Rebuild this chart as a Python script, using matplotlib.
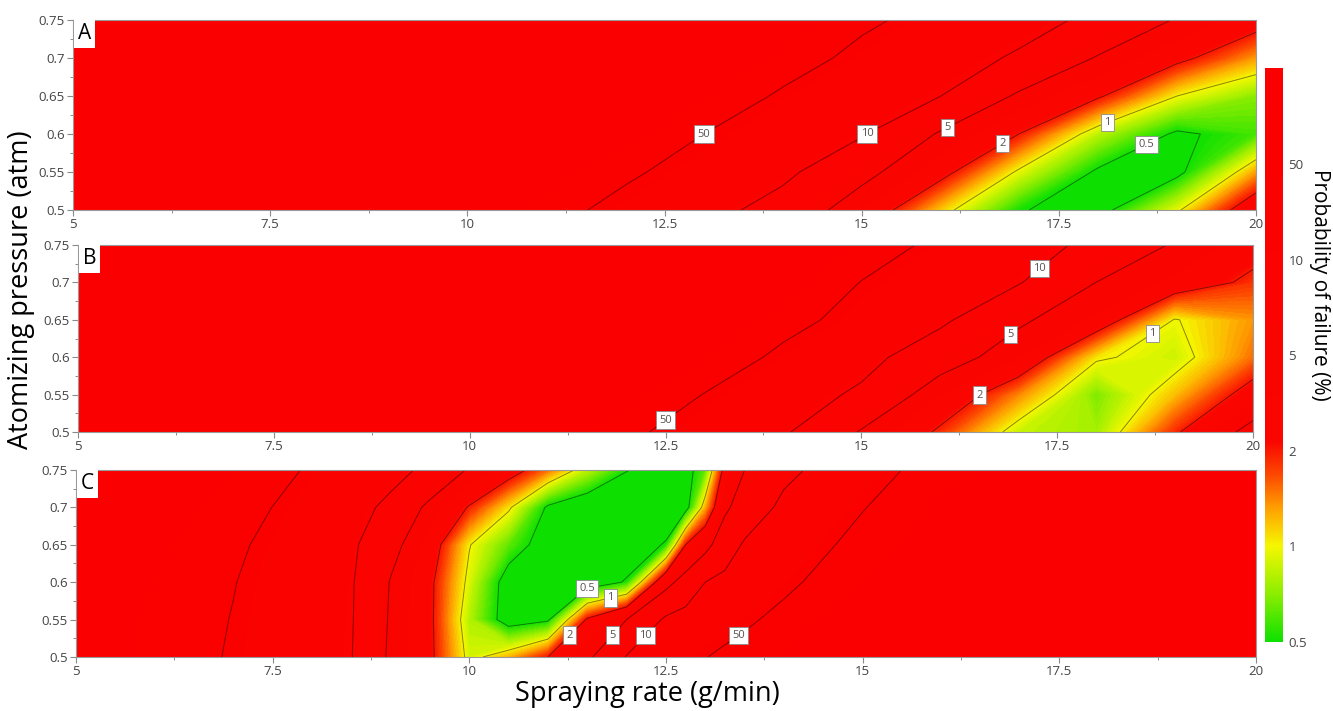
import numpy as np
import matplotlib
matplotlib.use("Agg")
import matplotlib.pyplot as plt
from matplotlib.colors import LinearSegmentedColormap, Normalize
from matplotlib.cm import ScalarMappable

plt.rcParams['font.family'] = ['Open Sans', 'DejaVu Sans']

# ---------------- data (probability of failure, %) ----------------
pressure = [0.50, 0.55, 0.60, 0.65, 0.70, 0.75]

rate_A = [5, 6, 7, 8, 9, 10, 11, 12, 13, 14, 15, 16, 17, 18, 19, 20]
fail_A = [
    [100, 100, 100, 100, 100, 100, 61, 33, 16.7, 7.8, 3.25, 1.15, 0.51, 0.435, 0.95, 3.2],
    [100, 100, 100, 100, 100, 100, 90, 55, 28, 13.8, 6.0, 2.47, 0.94, 0.47, 0.45, 1.3],
    [100, 100, 100, 100, 100, 100, 100, 89, 50, 23.5, 11.2, 4.6, 1.99, 0.82, 0.47, 0.58],
    [100, 100, 100, 100, 100, 100, 100, 100, 75, 41, 20.6, 10.1, 4.43, 2.15, 1.0, 0.70],
    [100, 100, 100, 100, 100, 100, 100, 100, 100, 66, 34.6, 18, 9.3, 4.7, 2.35, 1.32],
    [100, 100, 100, 100, 100, 100, 100, 100, 100, 100, 56, 30, 16.5, 8.8, 4.7, 2.6],
]

rate_B = [5, 6, 7, 8, 9, 10, 11, 12, 13, 14, 15, 16, 17, 18, 19, 20]
fail_B = [
    [100, 100, 100, 100, 100, 100, 100, 56, 26.6, 12.1, 4.7, 1.86, 0.86, 0.76, 1.86, 6.2],
    [100, 100, 100, 100, 100, 100, 100, 85, 47.6, 21, 9.0, 3.3, 1.41, 0.68, 1.19, 2.6],
    [100, 100, 100, 100, 100, 100, 100, 100, 75, 36.2, 16.4, 6.7, 3.4, 1.05, 0.87, 1.5],
    [100, 100, 100, 100, 100, 100, 100, 100, 100, 62, 29.2, 13.4, 5.5, 3.0, 0.98, 1.35],
    [100, 100, 100, 100, 100, 100, 100, 100, 100, 93, 48, 23, 11.1, 4.97, 3.0, 1.8],
    [100, 100, 100, 100, 100, 100, 100, 100, 100, 100, 72, 34, 17.1, 8.8, 4.6, 2.6],
]

rate_C = [5, 6, 7, 8, 8.5, 9, 9.5, 10, 10.5, 11, 11.5, 12, 12.5, 12.75, 13, 13.25, 13.5, 14, 15, 16, 18, 20]
fail_C = [
    [100, 69, 44, 17, 10.5, 4.39, 2.27, 0.90, 1.22, 2.0, 4.28, 10.8, 22.7, 33.4, 48, 56, 62, 79, 100, 100, 100, 100],
    [100, 70, 47.6, 17.8, 11.0, 4.6, 2.25, 0.80, 0.41, 0.47, 2.17, 5.0, 12.5, 16.8, 22.4, 29, 40, 58.6, 100, 100, 100, 100],
    [100, 74, 51, 18.8, 11.4, 4.8, 2.25, 0.91, 0.41, 0.35, 0.38, 0.52, 3.83, 6.5, 10, 13.8, 19.4, 37, 76, 100, 100, 100],
    [100, 82, 55, 22, 13.0, 6.0, 2.8, 1.02, 0.62, 0.41, 0.34, 0.38, 0.52, 2.0, 3.83, 7.4, 11.7, 22.4, 60, 100, 100, 100],
    [100, 100, 63, 28.5, 16.2, 8.8, 4.1, 1.93, 1.06, 0.47, 0.37, 0.33, 0.37, 0.42, 1.23, 4.3, 6.8, 13.8, 47, 79, 100, 100],
    [100, 100, 77, 42, 26, 15.2, 8.8, 4.6, 2.68, 1.49, 0.82, 0.51, 0.39, 0.435, 0.62, 2.6, 5.0, 8.6, 28.5, 64, 100, 100],
]

contour_levels = [0.5, 1, 2, 5, 10, 50]
contour_text = ['0.5', '1', '2', '5', '10', '50']
scale_refs = [0.25, 0.5, 1, 2, 5, 10, 50, 100]   # colour-scale reference points

# label anchor points (level, rate, pressure)
labels_A = [(50, 13.0, 0.60), (10, 15.13, 0.60), (5, 15.98, 0.609), (2, 16.72, 0.588),
            (1, 17.99, 0.616), (0.5, 18.65, 0.586)]
labels_B = [(50, 12.42, 0.516), (10, 17.43, 0.718), (5, 16.77, 0.631), (2, 16.54, 0.549),
            (1, 18.85, 0.631)]
labels_C = [(0.5, 11.38, 0.592), (1, 11.7, 0.58), (2, 11.27, 0.529), (5, 11.84, 0.529),
            (10, 12.1, 0.529), (50, 13.38, 0.529)]

xticks = [5, 7.5, 10, 12.5, 15, 17.5, 20]
xticklabels = ['5', '7.5', '10', '12.5', '15', '17.5', '20']
yticks = [0.5, 0.55, 0.6, 0.65, 0.7, 0.75]
yticklabels = ['0.5', '0.55', '0.6', '0.65', '0.7', '0.75']


def to_scale(p):
    """map probability (%) to the (equally spaced) colour-scale position"""
    return np.interp(np.log10(np.asarray(p, float)), np.log10(scale_refs),
                     np.arange(-1, len(scale_refs) - 1))


def snap(segs, x, y):
    """nearest point on a contour polyline (in axis-normalised units)"""
    sc = np.array([15.0, 0.25])
    q = np.array([x, y]) / sc
    best, bd = (x, y), np.inf
    for s in segs:
        if len(s) < 2:
            continue
        P = s / sc
        A, B = P[:-1], P[1:]
        AB = B - A
        L = (AB ** 2).sum(1)
        L[L == 0] = 1e-12
        t = np.clip(((q - A) * AB).sum(1) / L, 0, 1)
        pr = A + t[:, None] * AB
        d = ((pr - q) ** 2).sum(1)
        k = np.argmin(d)
        if d[k] < bd:
            bd, best = d[k], tuple(pr[k] * sc)
    if bd > 0.06 ** 2:
        return x, y
    return best


cmap = LinearSegmentedColormap.from_list('fail', [
    (0.0, (0.05, 0.88, 0.0)),
    (0.5 / 6, (0.55, 0.93, 0.0)),
    (1.0 / 6, (0.96, 0.97, 0.0)),
    (1.4 / 6, (1.0, 0.62, 0.0)),
    (1.75 / 6, (0.99, 0.28, 0.0)),
    (2.1 / 6, (0.98, 0.02, 0.0)),
    (1.0, (0.98, 0.0, 0.0)),
], N=512)
cmap.set_under((0.05, 0.88, 0.0))
norm = Normalize(0, 6)

fig = plt.figure(figsize=(13.33, 7.11), dpi=100)

panels = [
    ('A', rate_A, fail_A, labels_A, [0.0548, 0.7046, 0.8874, 0.2673]),
    ('B', rate_B, fail_B, labels_B, [0.0585, 0.3924, 0.8815, 0.2630]),
    ('C', rate_C, fail_C, labels_C, [0.0570, 0.0760, 0.8852, 0.2630]),
]

for letter, rate, fail, labs, rect in panels:
    ax = fig.add_axes(rect)
    X, Y = np.meshgrid(rate, pressure)
    Z = to_scale(fail)
    ax.contourf(X, Y, Z, levels=np.linspace(-1, 6, 141), cmap=cmap, norm=norm,
                antialiased=False)
    lev_idx = to_scale(contour_levels)
    cs = ax.contour(X, Y, Z, levels=lev_idx, colors='black', linewidths=0.7, alpha=0.45)
    for lev, x, y in labs:
        i = contour_levels.index(lev)
        px, py = snap(cs.allsegs[i], x, y)
        ax.text(px, py, contour_text[i], ha='center', va='center', fontsize=8,
                color='#5a5050', zorder=5,
                bbox=dict(facecolor='white', edgecolor='#8a8a8a', linewidth=0.6,
                          boxstyle='square,pad=0.3'))
    ax.set_xlim(5, 20)
    ax.set_ylim(0.5, 0.75)
    ax.set_xticks(xticks)
    ax.set_xticklabels(xticklabels)
    ax.set_xticks([6.25, 8.75, 11.25, 13.75, 16.25, 18.75], minor=True)
    ax.set_yticks(yticks)
    ax.set_yticklabels(yticklabels)
    ax.set_yticks([0.525, 0.575, 0.625, 0.675, 0.725], minor=True)
    ax.tick_params(which='major', direction='out', length=4, width=0.8, color='#8a8a8a',
                   labelsize=9.5, labelcolor='#444444', pad=2)
    ax.tick_params(which='minor', direction='out', length=2.5, width=0.7, color='#8a8a8a')
    for s in ax.spines.values():
        s.set_color('#9a9a9a')
        s.set_linewidth(0.8)
    ax.text(0.004, 0.985, letter, transform=ax.transAxes, ha='left', va='top',
            fontsize=15, color='black', zorder=6,
            bbox=dict(facecolor='white', edgecolor='none', boxstyle='square,pad=0.2'))

# colour bar
cax = fig.add_axes([0.949, 0.097, 0.0135, 0.807])
sm = ScalarMappable(norm=norm, cmap=cmap)
cb = fig.colorbar(sm, cax=cax, ticks=list(range(len(contour_levels))))
cb.set_ticklabels(contour_text)
cb.outline.set_visible(False)
cax.tick_params(length=0, labelsize=9.5, labelcolor='#444444', pad=4)

fig.text(0.990, 0.600, 'Probability of failure (%)', rotation=270, ha='center',
         va='center', fontsize=15)
fig.text(0.016, 0.592, 'Atomizing pressure (atm)', rotation=90, ha='center',
         va='center', fontsize=19.5)
fig.text(0.486, 0.024, 'Spraying rate (g/min)', ha='center', va='center', fontsize=19.5)

fig.savefig('out.png', dpi=100)
